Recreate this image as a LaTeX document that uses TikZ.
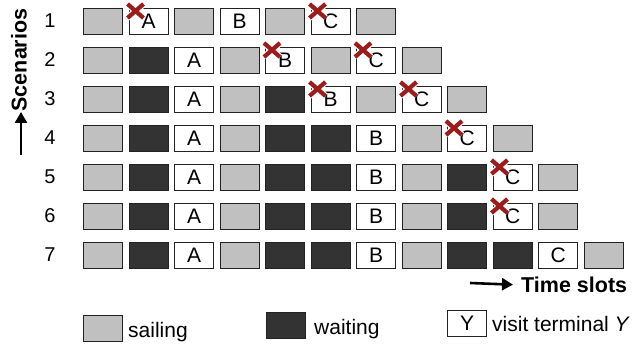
\documentclass[tikz,border=0pt]{standalone}
\usepackage{fontspec}
\setmainfont{Liberation Sans}
\usetikzlibrary{arrows.meta}
\definecolor{sailc}{HTML}{C0C0C0}
\definecolor{waitc}{HTML}{333333}
\definecolor{crossc}{HTML}{9C1C1C}
\definecolor{edgec}{HTML}{222222}
\tikzset{
  slot/.style={draw=edgec, line width=1.3pt, minimum width=39pt, minimum height=26pt,
    inner sep=0pt, anchor=north west, font=\fontsize{21}{21}\selectfont},
  t-S/.style={slot, fill=sailc},
  t-W/.style={slot, fill=waitc},
  t-A/.style={slot, fill=white},
  t-B/.style={slot, fill=white},
  t-C/.style={slot, fill=white},
  rownum/.style={font=\fontsize{20}{20}\selectfont, inner sep=0pt},
  axislabel/.style={font=\bfseries\fontsize{21.5}{21.5}\selectfont, inner sep=0pt},
  legtext/.style={font=\fontsize{21}{21}\selectfont, inner sep=0pt, anchor=base west},
  axisarrow/.style={line width=2.6pt, -{Triangle[width=12pt,length=11pt]}},
  crosshalo/.style={white, line width=6.5pt},
  crossline/.style={crossc, line width=4.2pt},
}
\def\lblS{}\def\lblW{}\def\lblA{A}\def\lblB{B}\def\lblC{C}
\begin{document}
\begin{tikzpicture}[x=1pt, y=-1pt]
\useasboundingbox (0,0) rectangle (635,344);
\foreach \r/\seq in {1/{S,A,S,B,S,C,S},
                     2/{S,W,A,S,B,S,C,S},
                     3/{S,W,A,S,W,B,S,C,S},
                     4/{S,W,A,S,W,W,B,S,C,S},
                     5/{S,W,A,S,W,W,B,S,W,C,S},
                     6/{S,W,A,S,W,W,B,S,W,C,S},
                     7/{S,W,A,S,W,W,B,S,W,W,C,S}} {
  \node[rownum] (n\r) at (50, {21+39*(\r-1)}) {\r};
  \foreach \t [count=\c] in \seq {
    \node[t-\t] (r\r-\c) at ({83+45.5*(\c-1)}, {8+39*(\r-1)}) {\csname lbl\t\endcsname};
  }
}
\foreach \n in {r1-2, r1-6, r2-5, r2-7, r3-6, r3-8, r4-9, r5-10, r6-10} {
  \draw[crosshalo] (\n.north west) ++(-1,-4) -- ++(16,14);
  \draw[crosshalo] (\n.north west) ++(-1,10) -- ++(16,-14);
  \draw[crossline] (\n.north west) ++(-1,-4) -- ++(16,14);
  \draw[crossline] (\n.north west) ++(-1,10) -- ++(16,-14);
}
% axis labels
\node[axislabel, rotate=90] (scen) at (19,60) {Scenarios};
\coordinate (sa) at (21,155);
\coordinate (sb) at (21,112);
\draw[axisarrow] (sa) -- (sb);
\node[axislabel, anchor=west] (tl) at (521,285) {Time slots};
\coordinate (ta) at (470,283);
\draw[axisarrow, shorten >=8pt] (ta) -- (tl.west);
% legend
\node[t-S] (lsail) at (83,315) {};
\node[legtext] (lsailt) at (128,338) {sailing};
\node[t-W] (lwait) at (266,312) {};
\node[legtext] (lwaitt) at (314,335) {waiting};
\node[slot, fill=white] (lvis) at (447,310) {Y};
\node[legtext] (lvist) at (492,332) {visit terminal \textit{Y}};
\end{tikzpicture}
\end{document}
